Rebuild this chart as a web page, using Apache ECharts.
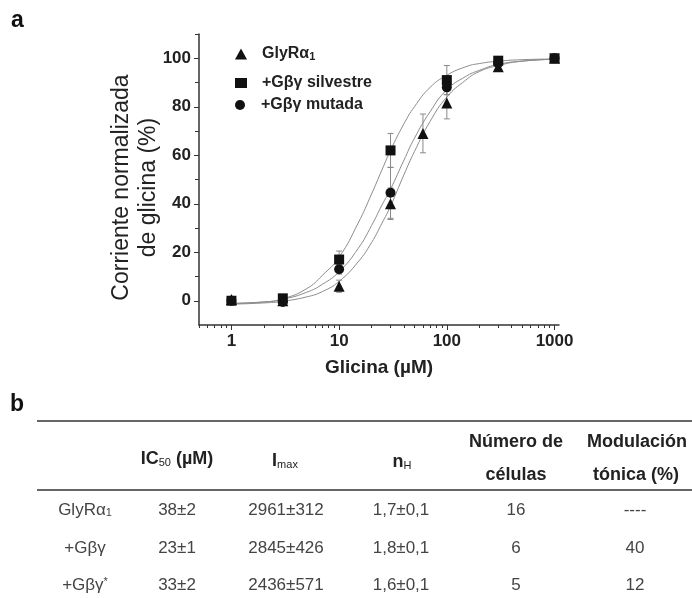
<!DOCTYPE html>
<html>
<head>
<meta charset="utf-8">
<script src="https://cdn.jsdelivr.net/npm/echarts@6/dist/echarts.min.js"></script>
<style>
    html, body { margin: 0; padding: 0; background: #fff; }
    #chart { width: 692px; height: 598px; }
</style>
</head>
<body>
<div id="chart"></div>
<script>
// --- measured points (mean, error) ---
const concTri = [1, 3, 10, 30, 60, 100, 300, 1000];
const meanTri = [0.5, 0, 6, 40, 69, 81.5, 96.5, 100];
const errTri = [1, 1, 2.5, 6.5, 8, 6.5, 1.5, 0.5];

const concSil = [1, 3, 10, 30, 100, 300, 1000];
const meanSil = [0, 1, 17, 62, 91, 99, 100];
const errSil = [0.5, 0.5, 3.5, 7, 6, 1, 0.5];

const concMut = [1, 3, 10, 30, 100, 300, 1000];
const meanMut = [0, -0.5, 13, 44.5, 88, 98, 100];
const errMut = [0.5, 0.5, 2, 10.5, 3, 1, 0.5];

// --- fitted curves ---
const fitConc = [1, 2, 3, 5, 7, 10, 15, 20, 25, 30, 40, 50, 70, 100, 150, 200, 300, 500, 1000];
const fitSil = [-1, -0.5, 0.8, 5, 10.5, 18, 32, 44, 54, 62, 73, 80, 88, 93, 96.5, 97.8, 98.8, 99.4, 99.7];
const fitMut = [-1.2, -0.5, 0.6, 3.5, 6.8, 12, 21.5, 31, 39.5, 46, 58, 67, 78, 87, 92.5, 95, 97.5, 98.8, 99.6];
const fitTri = [-1.4, -0.9, -0.2, 1.6, 3.8, 8, 16, 24, 32, 39, 52, 61.5, 74, 84, 91, 94.5, 97, 98.8, 99.6];

// --- ticks ---
const xMajor = [1, 10, 100, 1000];
const xMinor = [0.5, 0.6, 0.7, 0.8, 0.9, 2, 3, 4, 5, 6, 7, 8, 9, 20, 30, 40, 50, 60, 70, 80, 90, 200, 300, 400, 500, 600, 700, 800, 900];
const yMajor = [0, 20, 40, 60, 80, 100];
const yMinor = [10, 30, 50, 70, 90, 110];

// --- table b ---
const rowLabels = ['GlyRα{s|1}', '+Gβγ', '+Gβγ{p|*}'];
const ic50 = ['38±2', '23±1', '33±2'];
const imax = ['2961±312', '2845±426', '2436±571'];
const hill = ['1,7±0,1', '1,8±0,1', '1,6±0,1'];
const nCells = ['16', '6', '5'];
const modulation = ['----', '40', '12'];

const FONT = '"Liberation Sans", Arial, sans-serif';

function zip(a, b, c) {
    return a.map((v, i) => c ? [v, b[i], c[i]] : [v, b[i]]);
}

function errorBars(params, api) {
    let x = api.value(0), y = api.value(1), e = api.value(2);
    let top = api.coord([x, y + e]);
    let bot = api.coord([x, y - e]);
    let cap = 3;
    let st = { stroke: '#8a8a8a', lineWidth: 1 };
    return {
        type: 'group',
        children: [
            { type: 'line', shape: { x1: top[0], y1: top[1], x2: bot[0], y2: bot[1] }, style: st },
            { type: 'line', shape: { x1: top[0] - cap, y1: top[1], x2: top[0] + cap, y2: top[1] }, style: st },
            { type: 'line', shape: { x1: bot[0] - cap, y1: bot[1], x2: bot[0] + cap, y2: bot[1] }, style: st }
        ]
    };
}

let subRich = {
    s: { fontSize: 11, verticalAlign: 'bottom', fontFamily: FONT },
    p: { fontSize: 11, verticalAlign: 'top', fontFamily: FONT }
};

// table graphic
let graphic = [
    { type: 'text', left: 11, top: 9, style: { text: 'a', font: 'bold 23px ' + FONT, fill: '#111' } },
    { type: 'text', left: 10, top: 393, style: { text: 'b', font: 'bold 23px ' + FONT, fill: '#111' } },
    { type: 'line', shape: { x1: 37, y1: 421, x2: 692, y2: 421 }, style: { stroke: '#666', lineWidth: 2 } },
    { type: 'line', shape: { x1: 37, y1: 490, x2: 692, y2: 490 }, style: { stroke: '#666', lineWidth: 2 } }
];

function cell(text, x, y, head) {
    graphic.push({
        type: 'text',
        x: x, y: y,
        style: {
            text: text,
            align: 'center',
            verticalAlign: 'middle',
            fontSize: head ? 18 : 17,
            fontWeight: head ? 'bold' : 'normal',
            fontFamily: FONT,
            fill: head ? '#222' : '#444',
            rich: subRich
        }
    });
}

cell('IC{s|50} (µM)', 177, 459, true);
cell('I{s|max}', 285, 461, true);
cell('n{s|H}', 402, 462, true);
cell('Número de', 516, 442, true);
cell('células', 516, 475, true);
cell('Modulación', 637, 442, true);
cell('tónica (%)', 636, 475, true);

const colX = [85, 177, 286, 401, 516, 635];
const rowY = [510, 548, 585];
rowLabels.forEach((lab, i) => {
    let vals = [lab, ic50[i], imax[i], hill[i], nCells[i], modulation[i]];
    vals.forEach((v, j) => cell(v, colX[j], rowY[i], false));
});

let axisColor = '#333';

let option = {
    backgroundColor: '#fff',
    animation: false,
    textStyle: { fontFamily: FONT },
    grid: { left: 199, top: 34, width: 360, height: 291 },
    legend: [
        {
            data: ['GlyRα1'], left: 230, top: 41, orient: 'vertical',
            itemWidth: 12, itemHeight: 11,
            formatter: () => 'GlyRα{s|1}',
            textStyle: { fontSize: 16, fontWeight: 'bold', color: '#222', padding: [0, 0, 0, 10], rich: subRich }
        },
        {
            data: ['+Gβγ silvestre'], left: 230, top: 70, orient: 'vertical',
            itemWidth: 12, itemHeight: 10,
            textStyle: { fontSize: 16, fontWeight: 'bold', color: '#222', padding: [0, 0, 0, 10] }
        },
        {
            data: ['+Gβγ mutada'], left: 230, top: 92, orient: 'vertical',
            itemWidth: 12, itemHeight: 10,
            textStyle: { fontSize: 16, fontWeight: 'bold', color: '#222', padding: [0, 0, 0, 10] }
        }
    ],
    xAxis: [
        {
            type: 'log', logBase: 10, min: 0.5, max: 1100,
            axisLine: { onZero: false, lineStyle: { color: axisColor, width: 1.5 } },
            axisTick: { customValues: xMajor, length: 5, lineStyle: { color: axisColor } },
            axisLabel: {
                customValues: xMajor, fontSize: 17, fontWeight: 'bold', color: '#222', margin: 8,
                formatter: (v) => String(Math.round(v))
            },
            splitLine: { show: false },
            name: 'Glicina (µM)', nameLocation: 'middle', nameGap: 33, nameMoveOverlap: false,
            nameTextStyle: { fontSize: 19, fontWeight: 'bold', color: '#222' }
        },
        {
            type: 'log', logBase: 10, min: 0.5, max: 1100, position: 'bottom',
            axisLine: { show: false, onZero: false },
            axisTick: { customValues: xMinor, length: 3, lineStyle: { color: axisColor } },
            axisLabel: { show: false },
            splitLine: { show: false }
        }
    ],
    yAxis: [
        {
            type: 'value', min: -10, max: 110,
            axisLine: { show: true, onZero: false, lineStyle: { color: axisColor, width: 1.5 } },
            axisTick: { show: true, customValues: yMajor, length: 5, lineStyle: { color: axisColor } },
            axisLabel: { customValues: yMajor, fontSize: 17, fontWeight: 'bold', color: '#222', margin: 8 },
            splitLine: { show: false },
            name: 'Corriente normalizada\nde glicina (%)', nameLocation: 'middle', nameGap: 37, nameRotate: 90,
            nameMoveOverlap: false,
            nameTextStyle: { fontSize: 23, lineHeight: 27, color: '#222', padding: [0, 16, 0, 0] }
        },
        {
            type: 'value', min: -10, max: 110, position: 'left',
            axisLine: { show: false, onZero: false },
            axisTick: { show: true, customValues: yMinor, length: 4, lineStyle: { color: axisColor } },
            axisLabel: { show: false },
            splitLine: { show: false }
        }
    ],
    graphic: graphic,
    series: [
        { name: 'fitSil', type: 'line', data: zip(fitConc, fitSil), smooth: true, showSymbol: false, silent: true, z: 1, lineStyle: { color: '#8c8c8c', width: 1 } },
        { name: 'fitMut', type: 'line', data: zip(fitConc, fitMut), smooth: true, showSymbol: false, silent: true, z: 1, lineStyle: { color: '#8c8c8c', width: 1 } },
        { name: 'fitTri', type: 'line', data: zip(fitConc, fitTri), smooth: true, showSymbol: false, silent: true, z: 1, lineStyle: { color: '#8c8c8c', width: 1 } },
        { name: 'errTri', type: 'custom', renderItem: errorBars, data: zip(concTri, meanTri, errTri), encode: { x: 0, y: 1 }, z: 2 },
        { name: 'errSil', type: 'custom', renderItem: errorBars, data: zip(concSil, meanSil, errSil), encode: { x: 0, y: 1 }, z: 2 },
        { name: 'errMut', type: 'custom', renderItem: errorBars, data: zip(concMut, meanMut, errMut), encode: { x: 0, y: 1 }, z: 2 },
        { name: 'GlyRα1', type: 'scatter', symbol: 'triangle', symbolSize: 11, data: zip(concTri, meanTri), itemStyle: { color: '#111', opacity: 1 }, z: 3 },
        { name: '+Gβγ silvestre', type: 'scatter', symbol: 'rect', symbolSize: 10, data: zip(concSil, meanSil), itemStyle: { color: '#111', opacity: 1 }, z: 3 },
        { name: '+Gβγ mutada', type: 'scatter', symbol: 'circle', symbolSize: 10, data: zip(concMut, meanMut), itemStyle: { color: '#111', opacity: 1 }, z: 3 }
    ]
};

let chart = echarts.init(document.getElementById('chart'), null, { renderer: 'canvas' });
chart.setOption(option);
window.addEventListener('resize', chart.resize);
</script>
</body>
</html>
